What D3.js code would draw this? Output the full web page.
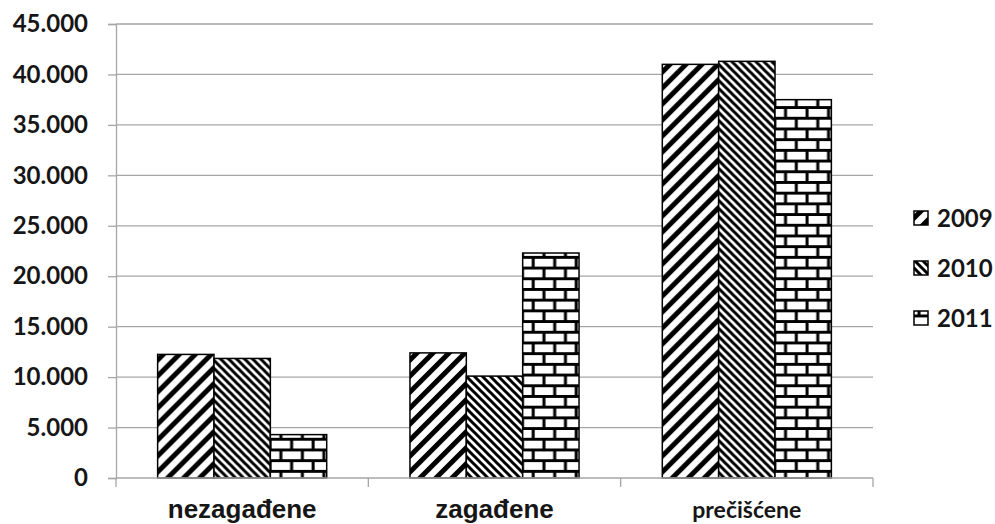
<!DOCTYPE html>
<html>
<head>
<meta charset="utf-8">
<style>
  body { margin: 0; background: #fff; }
  text { font-family: Lato, "Open Sans", sans-serif; font-weight: bold; fill: #161616; }
</style>
</head>
<body>
<div id="chart"></div>
<script src="https://d3js.org/d3.v7.min.js"></script>
<script>
// data
var categories = ["nezagađene", "zagađene", "prečišćene"];
var years = ["2009", "2010", "2011"];
var v2009 = [12250, 12400, 41000];
var v2010 = [11850, 10100, 41300];
var v2011 = [4300, 22300, 37500];
var yTicks = [0, 5000, 10000, 15000, 20000, 25000, 30000, 35000, 40000, 45000];

var series = [v2009, v2010, v2011];

var W = 995, H = 524;
var margin = {top: 24, right: 122, bottom: 46, left: 116};
var width = W - margin.left - margin.right,
    height = H - margin.top - margin.bottom;

var svg = d3.select("#chart").append("svg")
    .attr("width", W).attr("height", H);

// fill patterns
var defs = svg.append("defs");
var p1 = defs.append("pattern").attr("id", "p2009")
    .attr("patternUnits", "userSpaceOnUse").attr("width", 16).attr("height", 16);
p1.append("rect").attr("width", 16).attr("height", 16).attr("fill", "#fff");
p1.append("path").attr("d", "M-4,4L4,-4M0,16L16,0M12,20L20,12")
    .attr("stroke", "#000").attr("stroke-width", 5);

var p2 = defs.append("pattern").attr("id", "p2010")
    .attr("patternUnits", "userSpaceOnUse").attr("width", 8).attr("height", 8);
p2.append("rect").attr("width", 8).attr("height", 8).attr("fill", "#fff");
p2.append("path").attr("d", "M0,0L8,8M-4,4L4,12M4,-4L12,4")
    .attr("stroke", "#000").attr("stroke-width", 3);

var bw = 21.5, bh = 10.7;
var p3 = defs.append("pattern").attr("id", "p2011")
    .attr("patternUnits", "userSpaceOnUse").attr("width", bw).attr("height", bh * 2)
    .attr("x", 0).attr("y", margin.top + height);
p3.append("rect").attr("width", bw).attr("height", bh * 2).attr("fill", "#fff");
p3.append("path")
    .attr("d", "M0,1.5H" + bw + "M0," + (bh + 1.5) + "H" + bw +
               "M5,1.5V" + (bh + 1.5) + "M" + (5 + bw / 2) + "," + (bh + 1.5) + "V" + (2 * bh + 1.5))
    .attr("stroke", "#000").attr("stroke-width", 3);

var fills = ["url(#p2009)", "url(#p2010)", "url(#p2011)"];

var g = svg.append("g").attr("transform", "translate(" + margin.left + "," + margin.top + ")");

var x = d3.scaleBand().domain(categories).range([0, width]).paddingInner(0.33).paddingOuter(0.165);
var x1 = d3.scaleBand().domain(years).range([0, x.bandwidth()]);
var y = d3.scaleLinear().domain([0, 45000]).range([height, 0]);

// gridlines
g.append("g").selectAll("line").data(yTicks.slice(1)).join("line")
    .attr("x1", 0).attr("x2", width)
    .attr("y1", d => y(d)).attr("y2", d => y(d))
    .attr("stroke", "#a6a6a6").attr("stroke-width", 1.3);

// y axis
var yAxis = g.append("g").call(d3.axisLeft(y).tickValues(yTicks).tickSize(8).tickPadding(20)
    .tickFormat(d => d === 0 ? "0" : d3.format(",")(d).replace(/,/g, ".")));
yAxis.select(".domain").attr("stroke", "#a6a6a6").attr("stroke-width", 1.3);
yAxis.selectAll(".tick line").attr("stroke", "#a6a6a6").attr("stroke-width", 1.3);
yAxis.selectAll("text").attr("font-size", 24).attr("fill", "#161616")
    .style("font-family", "Lato, sans-serif").style("font-weight", "bold");

// bars
var groups = g.append("g").selectAll("g").data(categories).join("g")
    .attr("transform", d => "translate(" + x(d) + ",0)");
groups.selectAll("rect").data((d, i) => years.map((yr, j) => ({yr: yr, v: series[j][i], j: j})))
    .join("rect")
    .attr("x", d => x1(d.yr))
    .attr("width", x1.bandwidth())
    .attr("y", d => y(d.v))
    .attr("height", d => height - y(d.v))
    .attr("fill", d => fills[d.j])
    .attr("stroke", "#000").attr("stroke-width", 1.5);

// x axis
var step = width / categories.length;
var xg = g.append("g").attr("transform", "translate(0," + height + ")");
xg.append("line").attr("x1", 0).attr("x2", width).attr("stroke", "#a6a6a6").attr("stroke-width", 1.3);
xg.selectAll(".xt").data(d3.range(categories.length + 1)).join("line")
    .attr("x1", d => d * step).attr("x2", d => d * step)
    .attr("y1", 0).attr("y2", 9)
    .attr("stroke", "#a6a6a6").attr("stroke-width", 1.3);
xg.selectAll("text").data(categories).join("text")
    .attr("x", d => x(d) + x.bandwidth() / 2)
    .attr("y", 40)
    .attr("text-anchor", "middle")
    .style("font-family", (d, i) => i === 2 ? "Lato, sans-serif" : "'Liberation Sans', Arial, sans-serif")
    .attr("font-size", (d, i) => i === 2 ? 23 : 26)
    .text(d => d);

// legend
var lg = svg.append("g").attr("transform", "translate(914,218)");
var li = lg.selectAll("g").data(years).join("g")
    .attr("transform", (d, i) => "translate(0," + i * 50 + ")");
li.append("rect").attr("x", 0).attr("y", -7).attr("width", 14).attr("height", 14)
    .attr("fill", (d, i) => fills[i]).attr("stroke", "#000").attr("stroke-width", 1.5);
li.append("text").attr("x", 23).attr("y", 0).attr("dy", "0.36em").attr("font-size", 24).text(d => d);
</script>
</body>
</html>
